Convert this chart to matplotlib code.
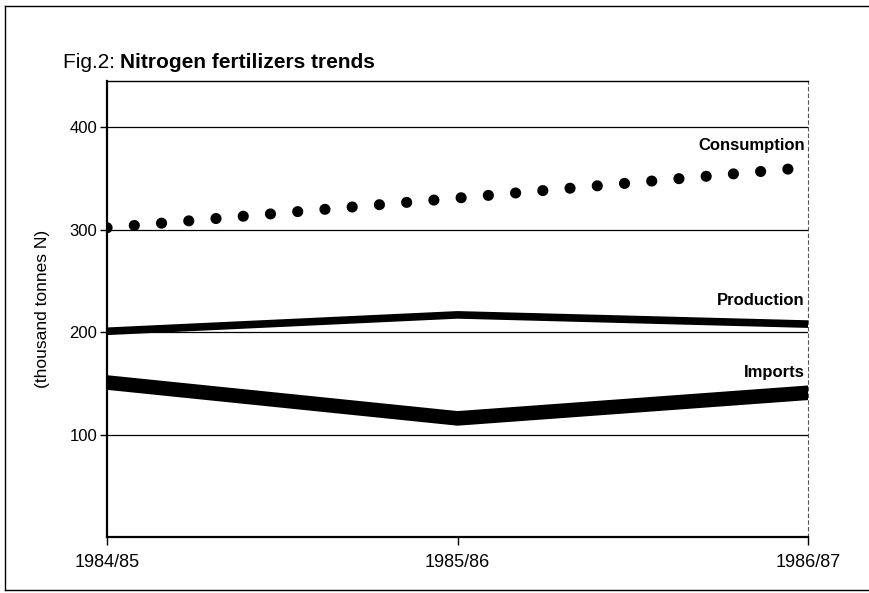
import matplotlib
matplotlib.use('Agg')
import matplotlib.pyplot as plt
from matplotlib.lines import Line2D

plt.rcParams['font.family'] = ['Liberation Sans', 'DejaVu Sans']

# Data (thousand tonnes N)
years = ['1984/85', '1985/86', '1986/87']
consumption = [302, 331, 361]
production = [201, 217, 208]
imports = [151, 116, 141]
yticks = [100, 200, 300, 400]

x = range(len(years))

fig = plt.figure(figsize=(8.7, 5.93), dpi=100)
ax = fig.add_axes([0.123, 0.094, 0.806, 0.769])

for y in yticks:
    ax.axhline(y, color='black', lw=0.9, zorder=1)

ax.plot(x, consumption, color='black', lw=8, dash_capstyle='round',
        linestyle=(0, (0.01, 2.45)), zorder=3)
ax.plot(x, production, color='black', lw=5.5, solid_joinstyle='miter', zorder=3)
ax.plot(x, imports, color='black', lw=10.5, solid_joinstyle='miter', zorder=3)

ax.set_xlim(0, 2)
ax.set_ylim(0, 445)
ax.set_xticks(list(x))
ax.set_xticklabels(years, fontsize=13)
ax.set_yticks(yticks)
ax.set_yticklabels([str(v) for v in yticks], fontsize=12)
ax.tick_params(axis='y', direction='out', length=5, width=1, pad=2)
ax.tick_params(axis='x', direction='out', length=6, width=1, pad=6)
ax.set_ylabel('(thousand tonnes N)', fontsize=12.5, labelpad=14)

for s in ['left', 'bottom']:
    ax.spines[s].set_linewidth(1.6)
ax.spines['top'].set_linewidth(1.0)
ax.spines['right'].set_linewidth(0.8)
ax.spines['right'].set_linestyle((0, (3, 3)))
ax.spines['right'].set_color('#555555')

lab = dict(ha='right', va='center', fontsize=12, fontweight='bold')
ax.text(1.99, 382, 'Consumption', **lab)
ax.text(1.99, 231, 'Production', **lab)
ax.text(1.99, 161, 'Imports', **lab)

t1 = fig.text(0.072, 0.895, 'Fig.2: ', fontsize=15, va='center', ha='left')
ax.annotate('Nitrogen fertilizers trends', xy=(1, 0.5), xycoords=t1,
            fontsize=15, fontweight='bold', va='center', ha='left')

# frame around the figure (left, top, bottom)
for xs, ys in [([0.006, 0.006], [0.005, 0.99]),
               ([0.006, 1.0], [0.99, 0.99]),
               ([0.006, 1.0], [0.005, 0.005])]:
    fig.add_artist(Line2D(xs, ys, transform=fig.transFigure, color='black', lw=1.0))

fig.savefig('out.png', dpi=100)
